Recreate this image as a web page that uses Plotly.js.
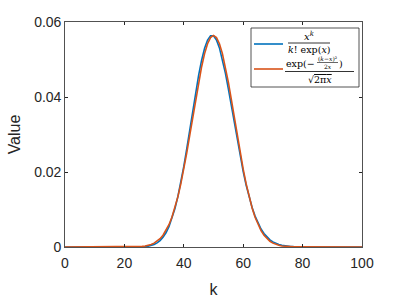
<!DOCTYPE html>
<html><head><meta charset="utf-8">
<script src="https://cdn.plot.ly/plotly-3.0.1.min.js"></script>
<style>html,body{margin:0;padding:0;background:#fff}</style>
</head><body><div id="c" style="width:399px;height:299px"></div>
<script>
// k values
const kVals = [0,10,20,21,22,23,24,25,26,27,28,29,30,31,32,33,34,35,36,37,38,39,40,41,42,43,44,45,46,47,48,49,50,51,52,53,54,55,56,57,58,59,60,61,62,63,64,65,66,67,68,69,70,71,72,73,74,75,76,77,78,79,80,90,100];
// Poisson pmf, x = 50
const poisson = [0,0,0.0000008,0.0000018,0.0000041,0.0000089,0.0000185,0.0000371,0.0000713,0.000132,0.000236,0.000406,0.000677,0.001092,0.001706,0.002585,0.003802,0.005432,0.007545,0.010196,0.013415,0.017199,0.021499,0.026219,0.031213,0.036294,0.041243,0.045826,0.049811,0.052991,0.055199,0.056325,0.056325,0.055221,0.053097,0.050092,0.046381,0.042164,0.037647,0.033023,0.028468,0.024125,0.020104,0.016479,0.013290,0.010547,0.008240,0.006339,0.004802,0.003584,0.002635,0.001909,0.001364,0.000961,0.000667,0.000457,0.000309,0.000206,0.000135,0.0000879,0.0000564,0.0000357,0.0000223,0.0000002,0];
// Normal approximation
const normal = [0,0,0.0000070,0.0000125,0.0000222,0.0000385,0.0000654,0.000109,0.000178,0.000284,0.000446,0.000686,0.001033,0.001526,0.002209,0.003136,0.004361,0.005947,0.007947,0.010411,0.013367,0.016824,0.020756,0.025099,0.029749,0.034564,0.039363,0.043939,0.048077,0.051563,0.054207,0.055858,0.056419,0.055858,0.054207,0.051563,0.048077,0.043939,0.039363,0.034564,0.029749,0.025099,0.020756,0.016824,0.013367,0.010411,0.007947,0.005947,0.004361,0.003136,0.002209,0.001526,0.001033,0.000686,0.000446,0.000284,0.000178,0.000109,0.0000654,0.0000385,0.0000222,0.0000125,0.0000070,0,0];
const xTicks = [0,20,40,60,80,100];
const yTicks = [0,0.02,0.04,0.06];
const yTickText = ['0','0.02','0.04','0.06'];

const L=65,R=362,T=22,B=247;
const px = v => (v-L)/(R-L);
const py = v => (B-v)/(B-T);
const blue='#0072BD', orange='#D95319';
const serif='"DejaVu Serif", "Liberation Serif", serif';

const traces = [
 {x:kVals,y:poisson,type:'scatter',mode:'lines',line:{color:blue,width:1.6},showlegend:false},
 {x:kVals,y:normal,type:'scatter',mode:'lines',line:{color:orange,width:1.6},showlegend:false}
];
const ann=(x,y,t,s,anc)=>({xref:'paper',yref:'paper',x:px(x),y:py(y),text:t,showarrow:false,xanchor:anc||'center',yanchor:'middle',borderpad:0,font:{family:serif,size:s||9,color:'#000'}});
const hline=(x0,x1,y,c,w)=>({type:'line',xref:'paper',yref:'paper',x0:px(x0),x1:px(x1),y0:py(y),y1:py(y),line:{color:c,width:w}});
const layout = {
 width:399,height:299,margin:{l:L,r:399-R,t:T,b:299-B},
 paper_bgcolor:'#fff',plot_bgcolor:'#fff',
 font:{family:'"Liberation Sans", Arial, sans-serif',color:'#262626'},
 xaxis:{range:[0,100],tickvals:xTicks,ticks:'inside',ticklen:3,tickcolor:'#262626',showline:true,mirror:'ticks',linecolor:'#262626',linewidth:0.8,showgrid:false,zeroline:false,ticklabelstandoff:3,tickfont:{size:14,color:'#262626'},title:{text:'k',font:{size:16,color:'#262626'},standoff:14}},
 yaxis:{range:[0,0.06],tickvals:yTicks,ticktext:yTickText,ticks:'inside',ticklen:3,tickcolor:'#262626',showline:true,mirror:'ticks',linecolor:'#262626',linewidth:0.8,showgrid:false,zeroline:false,tickfont:{size:14,color:'#262626'},title:{text:'Value',font:{size:16,color:'#262626'},standoff:9}},
 shapes:[
  {type:'rect',xref:'paper',yref:'paper',x0:px(251),x1:px(359),y0:py(87),y1:py(28),line:{color:'#262626',width:0.8},fillcolor:'#fff'},
  hline(254,283,44,blue,1.6),
  hline(254,283,69,orange,1.6),
  hline(288,330,43,'#000',0.8),
  hline(285,354,71.5,'#000',0.8),
  hline(317,338,62.5,'#000',0.6),
 ],
 annotations:[
  ann(309,36,'<i>x<sup>k</sup></i>',10),
  ann(309,49,'<i>k</i>! exp(<i>x</i>)',9.5),
  ann(316,64,'exp(−',9.5,'right'),
  ann(327.5,58.5,'(<i>k</i>−<i>x</i>)²',6),
  ann(327.5,66.5,'2<i>x</i>',6),
  ann(338,64,')',9.5,'left'),
  ann(320,79,'√<span style="text-decoration:overline">2π<i>x</i></span>',9.5)
 ]
};
Plotly.newPlot('c',traces,layout,{staticPlot:true,displayModeBar:false});
</script></body></html>
